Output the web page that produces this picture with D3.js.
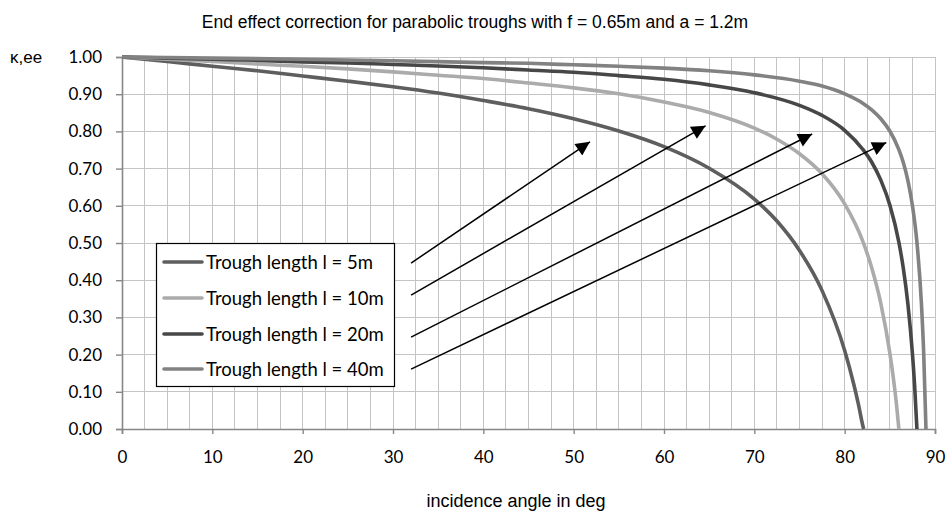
<!DOCTYPE html>
<html>
<head>
<meta charset="utf-8">
<script src="https://cdn.jsdelivr.net/npm/d3@7"></script>
<style>
  html, body { margin: 0; padding: 0; background: #fff; }
  svg { display: block; }
</style>
</head>
<body>
<svg id="chart" width="949" height="513"></svg>
<script>
// ---------- data ----------
const titleText = "End effect correction for parabolic troughs with f = 0.65m and a = 1.2m";
const xAxisTitle = "incidence angle in deg";
const yAxisTitle = "κ,ee";
const xTicks = [0, 10, 20, 30, 40, 50, 60, 70, 80, 90];
const yTicks = [0.0, 0.1, 0.2, 0.3, 0.4, 0.5, 0.6, 0.7, 0.8, 0.9, 1.0];
const seriesNames = ["Trough length l = 5m", "Trough length l = 10m", "Trough length l = 20m", "Trough length l = 40m"];

const angles5  = [0, 5, 10, 15, 20, 25, 30, 35, 40, 45, 50, 55, 60, 65, 70, 72.5, 75, 77.5, 80, 81, 81.5, 82, 82.1];
const kappa5   = [1.000, 0.988, 0.975, 0.963, 0.949, 0.935, 0.920, 0.903, 0.883, 0.861, 0.834, 0.801, 0.759, 0.701, 0.618, 0.559, 0.480, 0.372, 0.211, 0.121, 0.069, 0.010, 0.000];

const angles10 = [0, 5, 10, 15, 20, 25, 30, 35, 40, 45, 50, 55, 60, 65, 70, 72.5, 75, 77.5, 80, 82, 83, 84, 85, 85.5, 85.75, 86.0];
const kappa10  = [1.000, 0.994, 0.988, 0.981, 0.975, 0.968, 0.960, 0.951, 0.942, 0.930, 0.917, 0.901, 0.879, 0.851, 0.809, 0.779, 0.740, 0.686, 0.605, 0.505, 0.433, 0.338, 0.204, 0.116, 0.063, 0.000];

const angles20 = [0, 5, 10, 15, 20, 25, 30, 35, 40, 45, 50, 55, 60, 65, 70, 75, 77.5, 80, 82, 83, 84, 85, 86, 86.5, 87, 87.5, 87.75, 88.0];
const kappa20  = [1.000, 0.997, 0.994, 0.991, 0.987, 0.984, 0.980, 0.976, 0.971, 0.965, 0.959, 0.950, 0.940, 0.925, 0.904, 0.870, 0.843, 0.803, 0.752, 0.717, 0.669, 0.602, 0.502, 0.431, 0.336, 0.203, 0.114, 0.000];

const angles40 = [0, 10, 20, 30, 40, 45, 50, 55, 60, 65, 70, 75, 77.5, 80, 82, 83, 84, 85, 86, 86.5, 87, 87.5, 88, 88.5, 88.75, 89.0];
const kappa40  = [1.000, 0.997, 0.994, 0.990, 0.985, 0.983, 0.979, 0.975, 0.970, 0.963, 0.952, 0.935, 0.922, 0.901, 0.876, 0.858, 0.834, 0.801, 0.751, 0.716, 0.668, 0.601, 0.502, 0.336, 0.203, 0.000];

// annotation arrows (data coordinates: angle, kappa)
const arrowFromX = [32.0, 32.0, 32.0, 32.0];
const arrowFromY = [0.446, 0.360, 0.247, 0.161];
const arrowToX   = [51.8, 64.6, 76.4, 84.6];
const arrowToY   = [0.772, 0.815, 0.793, 0.770];

// ---------- layout / style ----------
const W = 949, H = 513;
const plot = { left: 122, right: 935, top: 57, bottom: 429 };
const colors = ["#5e5e5e", "#ababab", "#474747", "#828282"];
const tickFont = "Lato, 'Open Sans', sans-serif";
const arialFont = "'Liberation Sans', Arial, sans-serif";

const svg = d3.select("#chart");
const x = d3.scaleLinear().domain([0, 90]).range([plot.left, plot.right]);
const y = d3.scaleLinear().domain([0, 1]).range([plot.bottom, plot.top]);

// grid
const grid = svg.append("g");
grid.selectAll("line.v").data(d3.range(0, 90.01, 2.5)).join("line")
  .attr("x1", d => x(d)).attr("x2", d => x(d))
  .attr("y1", y(0)).attr("y2", y(1))
  .attr("stroke", "#c4c4c4").attr("stroke-width", 1)
  .attr("shape-rendering", "crispEdges");
grid.selectAll("line.h").data(yTicks.filter(d => d > 0)).join("line")
  .attr("x1", x(0)).attr("x2", x(90))
  .attr("y1", d => y(d)).attr("y2", d => y(d))
  .attr("stroke", "#c4c4c4").attr("stroke-width", 1)
  .attr("shape-rendering", "crispEdges");

// axes
const xAxis = d3.axisBottom(x).tickValues(xTicks).tickFormat(d3.format("d")).tickSize(5).tickPadding(17);
const yAxis = d3.axisLeft(y).tickValues(yTicks).tickFormat(d3.format(".2f")).tickSize(6).tickPadding(14);
const gx = svg.append("g").attr("transform", `translate(0,${plot.bottom})`).call(xAxis);
const gy = svg.append("g").attr("transform", `translate(${plot.left},0)`).call(yAxis);
[gx, gy].forEach(g => {
  g.select(".domain").attr("stroke", "#878787").attr("stroke-width", 1.6);
  g.selectAll(".tick line").attr("stroke", "#878787").attr("stroke-width", 1.4);
  g.selectAll(".tick text").attr("fill", "#000").style("font-family", tickFont).style("font-size", "17px");
});

// series
const series = [
  { xs: angles5, ys: kappa5 },
  { xs: angles10, ys: kappa10 },
  { xs: angles20, ys: kappa20 },
  { xs: angles40, ys: kappa40 }
];
const line = d3.line().x(d => x(d[0])).y(d => y(d[1])).curve(d3.curveMonotoneX);
svg.append("g").selectAll("path").data(series).join("path")
  .attr("d", s => line(s.xs.map((v, i) => [v, s.ys[i]])))
  .attr("fill", "none")
  .attr("stroke", (s, i) => colors[i])
  .attr("stroke-width", 3.6)
  .attr("stroke-linejoin", "round");

// arrows
const defs = svg.append("defs");
defs.append("marker").attr("id", "ah")
  .attr("viewBox", "0 0 10 10").attr("refX", 10).attr("refY", 5)
  .attr("markerUnits", "userSpaceOnUse")
  .attr("markerWidth", 16).attr("markerHeight", 14)
  .attr("orient", "auto")
  .append("path").attr("d", "M0,0 L10,5 L0,10 Z").attr("fill", "#000");
svg.append("g").selectAll("line").data(arrowFromX).join("line")
  .attr("x1", (d, i) => x(arrowFromX[i])).attr("y1", (d, i) => y(arrowFromY[i]))
  .attr("x2", (d, i) => x(arrowToX[i])).attr("y2", (d, i) => y(arrowToY[i]))
  .attr("stroke", "#000").attr("stroke-width", 1.5)
  .attr("marker-end", "url(#ah)");

// legend
const lg = svg.append("g");
lg.append("rect").attr("x", 156.5).attr("y", 243.5).attr("width", 238).attr("height", 143)
  .attr("fill", "#fff").attr("stroke", "#000").attr("stroke-width", 1.2);
const rowsY = [262, 298, 334, 369];
seriesNames.forEach((name, i) => {
  lg.append("line").attr("x1", 164).attr("x2", 202).attr("y1", rowsY[i]).attr("y2", rowsY[i])
    .attr("stroke", colors[i]).attr("stroke-width", 3.6).attr("stroke-linecap", "round");
  lg.append("text").attr("x", 206).attr("y", rowsY[i]).attr("dy", "0.36em")
    .style("font-family", tickFont).style("font-size", "18.5px").attr("fill", "#000")
    .text(name);
});

// titles
svg.append("text").attr("x", 475).attr("y", 28).attr("text-anchor", "middle")
  .style("font-family", arialFont).style("font-size", "17.5px").attr("fill", "#000")
  .text(titleText);
svg.append("text").attr("x", 10).attr("y", 63)
  .style("font-family", arialFont).style("font-size", "17px").attr("fill", "#000")
  .text(yAxisTitle);
svg.append("text").attr("x", 516).attr("y", 507).attr("text-anchor", "middle")
  .style("font-family", arialFont).style("font-size", "18px").attr("fill", "#000")
  .text(xAxisTitle);
</script>
</body>
</html>
